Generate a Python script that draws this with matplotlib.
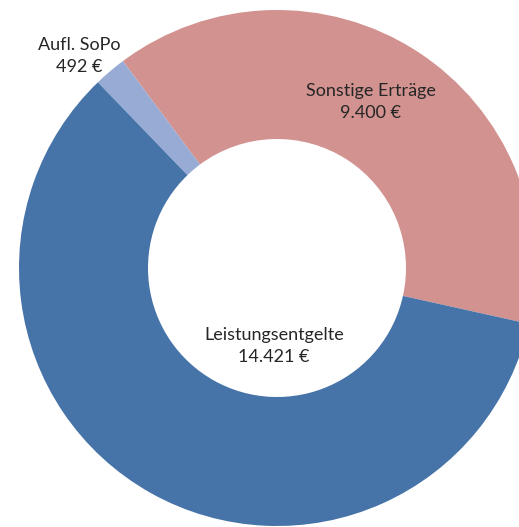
# donut chart of the income split, cropped like the original export

import matplotlib
matplotlib.use("Agg")
import matplotlib.pyplot as plt

W, H = 519, 527

labels = ["Sonstige Erträge", "Aufl. SoPo", "Leistungsentgelte"]
values = [9400, 492, 14421]
colors = ["#D19290", "#97ABD5", "#4673A8"]

# label anchor points in pixels (x from left, y from top)
label_pos = [(371, 102), (79, 56), (274, 346)]


def fmt_euro(v):
    return "{:,}".format(v).replace(",", ".") + " €"


fig = plt.figure(figsize=(W / 100, H / 100), dpi=100)
ax = fig.add_axes([0, 0, 1, 1])

ax.pie(
    values,
    colors=colors,
    startangle=-12.5,
    counterclock=True,
    center=(277, H - 268),
    radius=258,
    wedgeprops=dict(width=129, linewidth=0),
)
ax.set_xlim(0, W)
ax.set_ylim(0, H)
ax.set_aspect("equal")
ax.axis("off")

for lab, val, (x, y) in zip(labels, values, label_pos):
    ax.text(
        x, H - y, lab + "\n" + fmt_euro(val),
        ha="center", va="center", fontsize=13, family="Lato",
        color="#262626", linespacing=1.45,
    )

fig.savefig("out.png", dpi=100)
